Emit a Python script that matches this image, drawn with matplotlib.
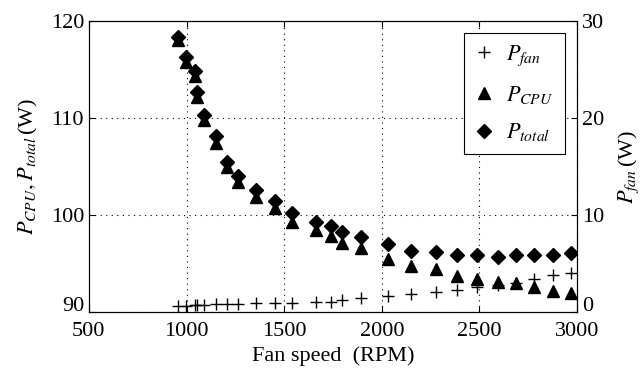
import numpy as np
import matplotlib
matplotlib.use('Agg')
import matplotlib.pyplot as plt
from matplotlib.transforms import ScaledTranslation

plt.rcParams['font.family'] = ['Liberation Serif', 'DejaVu Serif']
plt.rcParams['mathtext.fontset'] = 'stix'

# data
rpm = [959, 998, 1041, 1056, 1089, 1152, 1209, 1265, 1354, 1451, 1540,
       1662, 1740, 1796, 1894, 2032, 2152, 2277, 2386, 2489, 2596, 2690,
       2781, 2875, 2968]
p_total = [118.35, 116.3, 114.85, 112.65, 110.3, 108.1, 105.5, 104.05, 102.6,
           101.45, 100.2, 99.3, 98.9, 98.2, 97.7, 97.0, 96.3, 96.15, 95.9,
           95.9, 95.7, 95.9, 95.9, 95.9, 96.1]
p_cpu = [118.0, 115.8, 114.3, 112.2, 109.8, 107.45, 105.0, 103.4, 101.9,
         100.7, 99.3, 98.45, 97.8, 97.1, 96.55, 95.5, 94.7, 94.4, 93.7,
         93.45, 93.1, 93.0, 92.6, 92.2, 92.0]
p_fan = [0.65, 0.65, 0.68, 0.7, 0.72, 0.8, 0.82, 0.85, 0.95, 0.96, 0.92,
         1.06, 1.08, 1.24, 1.41, 1.65, 1.86, 2.1, 2.3, 2.6, 2.8, 2.96,
         3.45, 3.8, 4.05]

fs = 16
fig = plt.figure(figsize=(6.44, 3.75), dpi=100)
ax = fig.add_axes([0.138, 0.168, 0.758, 0.776])
ax2 = ax.twinx()

h_cpu, = ax.plot(rpm, p_cpu, '^', color='black', ms=9, mec='black')
h_tot, = ax.plot(rpm, p_total, 'D', color='black', ms=7.5, mec='black')
h_fan, = ax2.plot(rpm, p_fan, '+', color='black', ms=9, mew=1.0)

ax.set_xlim(500, 3000)
ax.set_ylim(90, 120)
ax2.set_ylim(0, 30)
ax.set_xticks([500, 1000, 1500, 2000, 2500, 3000])
ax.set_yticks([90, 100, 110, 120])
ax2.set_yticks([0, 10, 20, 30])

ax.grid(True, linestyle=(0, (1, 4)), color='black', linewidth=0.8)
ax.tick_params(direction='in', top=True, labelsize=fs, length=4)
ax.tick_params(axis='x', pad=7)
ax2.tick_params(direction='in', labelsize=fs, length=4)

# lift the bottom y labels a little, as in the original
lift = ScaledTranslation(0, 6 / 72, fig.dpi_scale_trans)
for lab in [ax.get_yticklabels()[0], ax2.get_yticklabels()[0]]:
    lab.set_transform(lab.get_transform() + lift)

ax.set_xlabel('Fan speed  (RPM)', fontsize=fs, labelpad=4)
ax.set_ylabel('$P_{CPU}, P_{total}\\,$(W)', fontsize=fs, labelpad=8)
ax2.set_ylabel('$P_{fan}\\,$(W)', fontsize=fs, labelpad=9)

leg = ax.legend([h_fan, h_cpu, h_tot], ['$P_{fan}$', '$P_{CPU}$', '$P_{total}$'],
                loc='upper right', fontsize=fs, fancybox=False, framealpha=1,
                edgecolor='black', borderpad=0.5, labelspacing=0.7,
                handlelength=0.8, handletextpad=0.6, borderaxespad=0,
                bbox_to_anchor=(0.975, 0.96))
leg.get_frame().set_linewidth(0.8)

fig.savefig('out.png', dpi=100)
